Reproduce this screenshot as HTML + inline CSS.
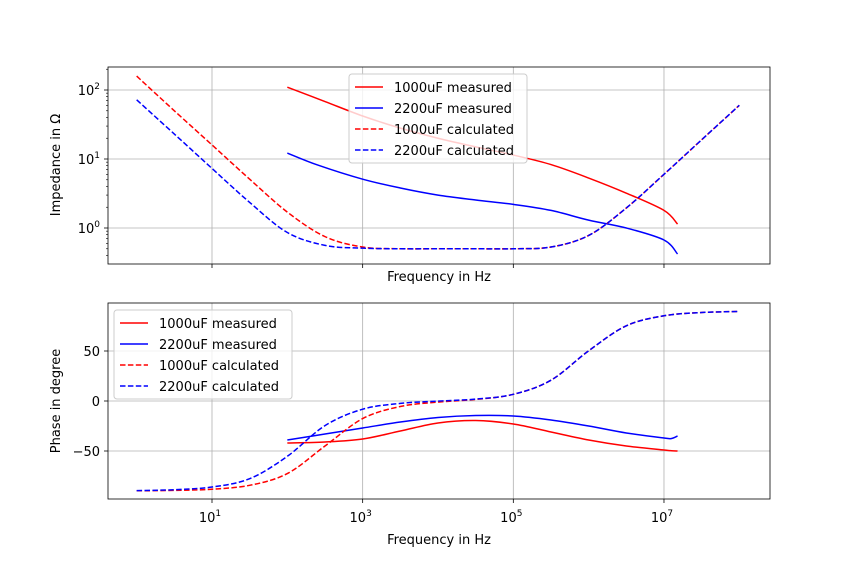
<!DOCTYPE html>
<html><head><meta charset="utf-8"><style>
body{margin:0;background:#fff}
svg text{font-family:"DejaVu Sans","Liberation Sans",sans-serif;fill:#000}
</style></head><body>
<svg id="chart" width="855" height="561" viewBox="0 0 855 561" xmlns="http://www.w3.org/2000/svg">
<rect width="855" height="561" fill="#fff"/>
</svg>
<script>
// log10 frequency sample points (Hz exponents)
const fCalc = [0,0.5,1,1.5,2,2.5,3,3.5,4,4.5,5,5.5,6,6.5,7,7.5,8];
const z1000Calc = [159,50,16,5.1,1.7,0.75,0.53,0.5,0.5,0.5,0.5,0.53,0.78,1.95,6,19,60];
const z2200Calc = [72,23,7.3,2.35,0.86,0.56,0.51,0.5,0.5,0.5,0.5,0.53,0.78,1.95,6,19,60];
const fMeas = [2,2.5,3,3.5,4,4.5,5,5.5,6,6.5,7,7.18];
const z1000Meas = [110,68,42,28,20,15,11.4,8.3,5.3,3.2,1.8,1.14];
const fMeas2 = [2,2.4,3,3.5,4,4.5,5,5.5,6,6.5,7,7.18];
const z2200Meas = [12.2,8.2,5.1,3.8,3.0,2.55,2.2,1.8,1.3,1.0,0.67,0.42];
const p1000Calc = [-89.8,-89.4,-88.2,-84.3,-72.6,-45,-17.6,-5.5,-1.1,1.6,6.7,20.8,50.2,75.2,85.2,88.5,89.5];
const p2200Calc = [-89.6,-88.7,-86.0,-77.7,-55.3,-24.6,-8.2,-2.4,-0.1,1.9,6.7,20.8,50.2,75.2,85.2,88.5,89.5];
const fPhMeas = [2,2.5,3,3.5,4,4.5,5,5.5,6,6.5,7,7.1,7.18];
const p1000Meas = [-42,-41,-38,-30,-22,-19.5,-23,-31,-39,-45,-49,-49.7,-50];
const p2200Meas = [-39,-33,-27,-21,-16.5,-14.5,-15,-19,-25,-32,-37,-37.5,-35];
const xTickExp = [1,3,5,7];
const zTickExp = [0,1,2];
const phTicks = [-50,0,50];

const NS="http://www.w3.org/2000/svg";
const svg=document.getElementById('chart');
function el(tag,attrs,parent){const e=document.createElementNS(NS,tag);for(const k in attrs)e.setAttribute(k,attrs[k]);(parent||svg).appendChild(e);return e;}
const L=108,R=770;
const x=e=>212+(e-1)*75.33;
const yZ=v=>228-Math.log10(v)*69;
const yP=v=>401-v*1.0;
function pathFrom(xs,ys,fx,fy){
  const p=xs.map((v,i)=>[fx(v),fy(ys[i])]);
  let d=`M${p[0][0]},${p[0][1]}`;
  for(let i=0;i<p.length-1;i++){
    const p0=p[Math.max(0,i-1)],p1=p[i],p2=p[i+1],p3=p[Math.min(p.length-1,i+2)];
    const c1=[p1[0]+(p2[0]-p0[0])/6,p1[1]+(p2[1]-p0[1])/6];
    const c2=[p2[0]-(p3[0]-p1[0])/6,p2[1]-(p3[1]-p1[1])/6];
    d+=` C${c1[0]},${c1[1]} ${c2[0]},${c2[1]} ${p2[0]},${p2[1]}`;
  }
  return d;
}
function panel(top,bot,name){
  const g=el('g',{});
  
  
  const cp=el('clipPath',{id:name+'-clip'},g);
  el('rect',{x:L,y:top,width:R-L,height:bot-top},cp);
  return g;
}
// ---------- top panel ----------
const gT=panel(67,264,'impedance-panel');
xTickExp.forEach(e=>{
  const gl=el('line',{x1:x(e),x2:x(e),y1:67,y2:264,stroke:'#b0b0b0','stroke-width':0.8},gT);
  
  el('line',{x1:x(e),x2:x(e),y1:264,y2:268,stroke:'#000','stroke-width':0.8},gT);
});
zTickExp.forEach(e=>{
  const y=yZ(Math.pow(10,e));
  el('line',{x1:L,x2:R,y1:y,y2:y,stroke:'#b0b0b0','stroke-width':0.8},gT);
  el('line',{x1:L-4,x2:L,y1:y,y2:y,stroke:'#000','stroke-width':0.8},gT);
  const t=el('text',{x:L-8,y:y+5,'text-anchor':'end','font-size':13},gT);
  
  
  t.innerHTML='10<tspan dy="-6" font-size="9">'+e+'</tspan>';
});
for(let e=-1;e<=2;e++)for(let m=2;m<10;m++){const y=yZ(m*Math.pow(10,e));if(y>67&&y<264)el('line',{x1:L-2,x2:L,y1:y,y2:y,stroke:'#000','stroke-width':0.6},gT);}
const gTd=el('g',{'clip-path':'url(#impedance-panel-clip)'},gT);
[[fMeas,z1000Meas,'red','','z-1000uf-measured'],[fMeas2,z2200Meas,'blue','','z-2200uf-measured'],
 [fCalc,z1000Calc,'red','5.5,2.4','z-1000uf-calculated'],[fCalc,z2200Calc,'blue','5.5,2.4','z-2200uf-calculated']].forEach(s=>{
  const p=el('path',{d:pathFrom(s[0],s[1],x,yZ),fill:'none',stroke:s[2],'stroke-width':1.5,'stroke-dasharray':s[3]},gTd);
  
  
});
el('rect',{x:L,y:67,width:R-L,height:197,fill:'none',stroke:'#000','stroke-width':0.8},gT);
const yt1=el('text',{x:60,y:165,'text-anchor':'middle','font-size':13,transform:'rotate(-90 60 165)'},gT);


yt1.textContent='Impedance in Ω';
const xt1=el('text',{x:439,y:281,'text-anchor':'middle','font-size':13},gT);


xt1.textContent='Frequency in Hz';

// ---------- bottom panel ----------
const gB=panel(303,499,'phase-panel');
xTickExp.forEach(e=>{
  el('line',{x1:x(e),x2:x(e),y1:303,y2:499,stroke:'#b0b0b0','stroke-width':0.8},gB);
  el('line',{x1:x(e),x2:x(e),y1:499,y2:503,stroke:'#000','stroke-width':0.8},gB);
  const t=el('text',{x:x(e)-2,y:522,'text-anchor':'middle','font-size':13},gB);
  
  
  t.innerHTML='10<tspan dy="-6" font-size="9">'+e+'</tspan>';
});
phTicks.forEach(v=>{
  const y=yP(v);
  el('line',{x1:L,x2:R,y1:y,y2:y,stroke:'#b0b0b0','stroke-width':0.8},gB);
  el('line',{x1:L-4,x2:L,y1:y,y2:y,stroke:'#000','stroke-width':0.8},gB);
  const t=el('text',{x:L-8,y:y+5,'text-anchor':'end','font-size':13},gB);
  
  
  t.textContent=v<0?'−'+(-v):String(v);
});
const gBd=el('g',{'clip-path':'url(#phase-panel-clip)'},gB);
[[fPhMeas,p1000Meas,'red','','phase-1000uf-measured'],[fPhMeas,p2200Meas,'blue','','phase-2200uf-measured'],
 [fCalc,p1000Calc,'red','5.5,2.4','phase-1000uf-calculated'],[fCalc,p2200Calc,'blue','5.5,2.4','phase-2200uf-calculated']].forEach(s=>{
  const p=el('path',{d:pathFrom(s[0],s[1],x,yP),fill:'none',stroke:s[2],'stroke-width':1.5,'stroke-dasharray':s[3]},gBd);
  
  
});
el('rect',{x:L,y:303,width:R-L,height:196,fill:'none',stroke:'#000','stroke-width':0.8},gB);
const yt2=el('text',{x:60,y:401,'text-anchor':'middle','font-size':13,transform:'rotate(-90 60 401)'},gB);


yt2.textContent='Phase in degree';
const xt2=el('text',{x:439,y:544,'text-anchor':'middle','font-size':13},gB);


xt2.textContent='Frequency in Hz';

// ---------- legends ----------
const legItems=[['1000uF measured','red',''],['2200uF measured','blue',''],['1000uF calculated','red','5.5,2.4'],['2200uF calculated','blue','5.5,2.4']];
function legend(lx,ly,name){
  const g=el('g',{});
  
  
  el('rect',{x:lx,y:ly,width:178,height:89,rx:3,fill:'#fff','fill-opacity':0.8,stroke:'#ccc','stroke-width':1},g);
  legItems.forEach((it,i)=>{
    const yy=ly+13+i*21;
    const e=el('g',{},g);
    
    
    el('line',{x1:lx+6,x2:lx+34,y1:yy,y2:yy,stroke:it[1],'stroke-width':1.5,'stroke-dasharray':it[2]},e);
    const t=el('text',{x:lx+45,y:yy+5,'font-size':13},e);
    t.textContent=it[0];
  });
}
legend(349,74,'legend-top');
legend(114,310,'legend-bottom');
</script>
</body></html>
